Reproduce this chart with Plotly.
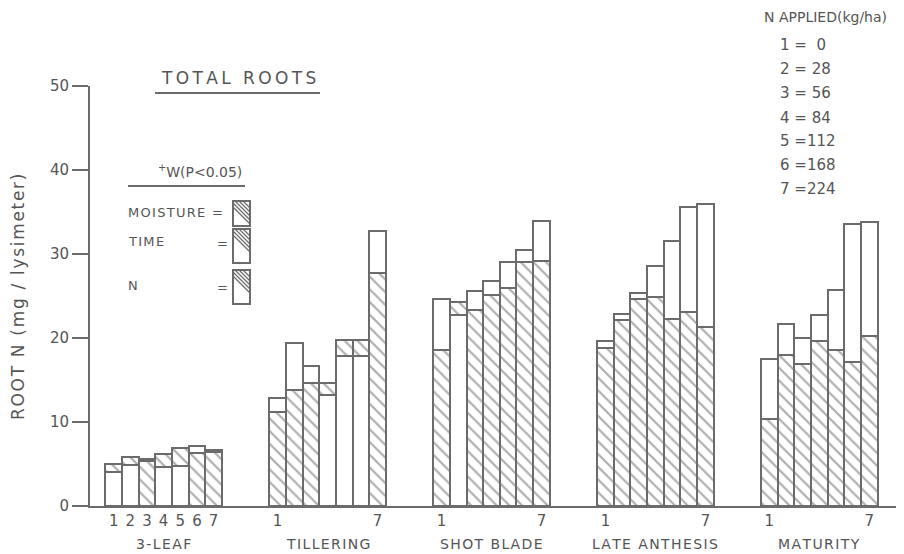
import plotly.graph_objects as go

# ---------------- data ----------------
stages = ["3-LEAF", "TILLERING", "SHOT BLADE", "LATE ANTHESIS", "MATURITY"]
n_levels = ["1", "2", "3", "4", "5", "6", "7"]
n_rates = ["0", "28", "56", "84", "112", "168", "224"]

# two overlapped series per bar: hatched and open (white)
hatched_3leaf = [5.0, 5.8, 5.3, 6.15, 6.9, 6.3, 6.4]
open_3leaf = [4.0, 4.9, 5.6, 4.6, 4.8, 7.2, 6.7]
hatched_tillering = [11.2, 13.8, 14.7, 14.7, 19.8, 19.8, 27.7]
open_tillering = [12.8, 19.4, 16.7, 13.2, 17.8, 17.8, 32.7]
hatched_shotblade = [18.6, 24.3, 23.3, 25.1, 25.9, 29.1, 29.2]
open_shotblade = [24.7, 22.7, 25.6, 26.8, 29.0, 30.5, 33.9]
hatched_anthesis = [18.8, 22.2, 24.7, 24.9, 22.3, 23.1, 21.3]
open_anthesis = [19.6, 22.8, 25.3, 28.6, 31.6, 35.6, 36.0]
hatched_maturity = [10.3, 18.0, 16.9, 19.6, 18.6, 17.2, 20.2]
open_maturity = [17.5, 21.7, 20.0, 22.7, 25.7, 33.6, 33.8]

hatched_all = [hatched_3leaf, hatched_tillering, hatched_shotblade, hatched_anthesis, hatched_maturity]
open_all = [open_3leaf, open_tillering, open_shotblade, open_anthesis, open_maturity]

# ---------------- styling ----------------
GRAY = "#6b6b6b"
TXT = "#555555"
FONT = "DejaVu Sans"
GROUP_STEP = 9.84
NB = "\u00a0"
THIN = "\u2009"
HAIR = "\u200a"

xs, back_y, back_shape, front_y, front_shape = [], [], [], [], []
for g in range(len(stages)):
    for i in range(len(n_levels)):
        h = hatched_all[g][i]
        o = open_all[g][i]
        xs.append(g * GROUP_STEP + i)
        back_y.append(max(h, o))
        back_shape.append("\\" if h > o else "")
        front_y.append(min(h, o))
        front_shape.append("\\" if h <= o else "")

fig = go.Figure()
for yv, shp in ((back_y, back_shape), (front_y, front_shape)):
    fig.add_trace(go.Bar(
        x=xs, y=yv, width=1.0,
        marker=dict(color="white",
                    line=dict(color=GRAY, width=2),
                    pattern=dict(shape=shp, fgcolor="#5c5c5c", bgcolor="white",
                                 size=9, solidity=0.24)),
        showlegend=False, hoverinfo="y",
    ))

tickvals, ticktext = [], []
for g in range(len(stages)):
    for i in range(len(n_levels)):
        if g == 0 or i in (0, len(n_levels) - 1):
            tickvals.append(g * GROUP_STEP + i)
            ticktext.append(n_levels[i])

# page has an 8px body margin: figure occupies page px 8..904 / 8..554
fig.update_layout(
    width=896, height=546,
    margin=dict(l=82, r=4, t=78, b=48),
    paper_bgcolor="white", plot_bgcolor="white",
    barmode="overlay", bargap=0,
    font=dict(family=FONT, color=TXT),
    xaxis=dict(range=[-1.42, 47.2], tickvals=tickvals, ticktext=ticktext,
               showline=True, linecolor=GRAY, linewidth=2, ticks="",
               showgrid=False, zeroline=False, tickfont=dict(size=15, color=TXT)),
    yaxis=dict(range=[0, 50], tickvals=[0, 10, 20, 30, 40, 50],
               showline=True, linecolor=GRAY, linewidth=2, ticks="outside",
               ticklen=16, tickwidth=2, tickcolor=GRAY, showgrid=False,
               zeroline=False, tickfont=dict(size=15, color=TXT)),
)

def px2p(px, py):
    # page pixel -> plot-area paper coords (plot area at page px 90..900, 86..506)
    return (px - 90) / 810.0, (506 - py) / 420.0

def spaced(s, sep=THIN):
    return sep.join(list(s)).replace(" ", NB)

annots = []
def add_text(text, px, py, size=14, xanchor="left", **kw):
    x, y = px2p(px, py)
    annots.append(dict(text=text, x=x, y=y, xref="paper", yref="paper",
                       xanchor=xanchor, yanchor="middle", showarrow=False,
                       font=dict(size=size, color=TXT, family=FONT), **kw))

# group labels
for g, s in enumerate(stages):
    x, y = px2p(0, 544)
    annots.append(dict(text=spaced(s, HAIR), x=g * GROUP_STEP + 3, xref="x", y=y, yref="paper",
                       xanchor="center", yanchor="middle", showarrow=False,
                       font=dict(size=14, color=TXT, family=FONT)))

# y-axis title
add_text(spaced("ROOT N (mg / lysimeter)", HAIR), 18, 297, size=17, xanchor="center", textangle=-90)

# title block
add_text(spaced("TOTAL ROOTS"), 238, 78, size=17, xanchor="center")
add_text("<sup>+</sup>W(P&lt;0.05)", 200, 171, size=14, xanchor="center")
add_text(spaced("MOISTURE =", HAIR), 126, 212, size=13)
add_text(spaced("TIME", HAIR), 126, 241, size=13)
add_text("=", 215, 243, size=13)
add_text("N", 126, 285, size=13)
add_text("=", 215, 287, size=13)

# N applied key
add_text("N" + NB + "APPLIED(kg/ha)", 762, 17, size=14)
key_y = [45, 69, 93, 118, 141, 165, 189]
for lev, rate, py in zip(n_levels, n_rates, key_y):
    if len(rate) == 1:
        txt = f"{lev}{NB}={NB}{NB}{rate}"
    elif len(rate) == 2:
        txt = f"{lev}{NB}={NB}{rate}"
    else:
        txt = f"{lev}{NB}={rate}"
    add_text(txt, 778, py, size=15)

fig.update_layout(annotations=annots)

shapes = []
def line_px(x0, y0, x1, y1, w=2, color=GRAY):
    a, b = px2p(x0, y0)
    c, d = px2p(x1, y1)
    shapes.append(dict(type="line", xref="paper", yref="paper", x0=a, y0=b, x1=c, y1=d,
                       line=dict(color=color, width=w)))

# underlines
line_px(155, 93, 320, 93, w=2)
line_px(128, 186, 245, 186, w=2)

# small key boxes with partial hatching (upper right)
def key_box(x0, y0, x1, y1, nlines):
    a, b = px2p(x0, y0)
    c, d = px2p(x1, y1)
    shapes.append(dict(type="rect", xref="paper", yref="paper", x0=a, y0=d, x1=c, y1=b,
                       line=dict(color=GRAY, width=2), fillcolor="white"))
    step = 4
    for k in range(nlines):
        sx = x0 + k * step - 6
        sy = y0
        if sx < x0:
            sy = y0 + (x0 - sx)
            sx = x0
        ex = x1
        ey = y0 + (x1 - (x0 + k * step - 6))
        ey = min(ey, y1)
        if ex > sx:
            line_px(sx, sy, ex, ey, w=1.3)

key_box(233, 201, 250, 226, 5)
key_box(233, 229, 250, 263, 5)
key_box(233, 270, 250, 304, 5)

fig.update_layout(shapes=shapes)

fig.write_html("out.html")
